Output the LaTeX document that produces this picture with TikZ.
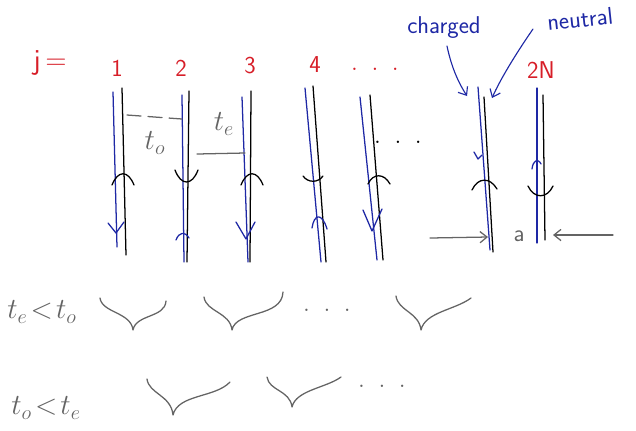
\documentclass[tikz,border=0pt]{standalone}
\usetikzlibrary{arrows.meta}
\definecolor{inkred}{RGB}{215,30,40}
\definecolor{inkblue}{RGB}{30,40,165}
\definecolor{inkgray}{RGB}{100,100,100}
\newcommand{\inkdots}{.\hspace{0.45em}.\hspace{0.45em}.}
\begin{document}
\begin{tikzpicture}[x=0.025cm,y=-0.025cm,line cap=round,line join=round,
  charged wire/.style={inkblue,line width=0.9pt},
  neutral wire/.style={black,line width=0.9pt},
  site label/.style={text=inkred,font=\sffamily\LARGE},
  ink label/.style={text=inkblue,font=\sffamily\LARGE},
  gray label/.style={text=inkgray,font=\huge},
  gray ink/.style={inkgray,line width=0.9pt},
  barb/.style={-{Straight Barb[length=5pt,width=8pt]}}]
\useasboundingbox (0,0) rectangle (636,430);
% site labels
\node[site label,font=\sffamily\huge] (jeq) at (50,63) {j\,=};
\node[site label] (j1) at (117,68) {1};
\node[site label] (j2) at (181,68) {2};
\node[site label] (j3) at (250,66) {3};
\node[site label] (j4) at (315,65) {4};
\node[site label,font=\huge] (jdots) at (375,69) {\inkdots};
\node[site label] (j2N) at (541,70) {2N};
% wires: charged (blue) and neutral (black)
\foreach \n/\ba/\bb/\ka/\kb in {1/{113,92}/{117,247}/{122,88}/{126,255},
    2/{182,95}/{184,262}/{189,91}/{187,262},
    3/{242,97}/{248,262}/{251,91}/{250,262},
    4/{305,88}/{321,262}/{313,86}/{326,262},
    5/{360,97}/{377,260}/{370,95}/{383,260},
    6/{478,87}/{490,250}/{484,97}/{493,252},
    7/{537,88}/{537,243}/{543,95}/{545,240}}{
  \coordinate (c\n top) at (\ba);
  \coordinate (c\n bot) at (\bb);
  \coordinate (n\n top) at (\ka);
  \coordinate (n\n bot) at (\kb);
  \draw[charged wire] (c\n top) -- (c\n bot);
  \draw[neutral wire] (n\n top) -- (n\n bot);
}
% crossings on the neutral wires
\draw[neutral wire] (112,185) .. controls (118,170) and (128,170) .. (134,185);
\draw[neutral wire] (175,170) .. controls (181,186) and (192,186) .. (198,170);
\draw[neutral wire] (241,185) .. controls (247,170) and (257,170) .. (263,185);
\draw[neutral wire] (303,176) .. controls (308,183) and (318,183) .. (323,176);
\draw[neutral wire] (368,184) .. controls (373,173) and (384,173) .. (390,184);
\draw[neutral wire] (472,190) .. controls (478,177) and (490,177) .. (497,189);
\draw[neutral wire] (528,186) .. controls (534,199) and (547,199) .. (553,186);
% orientation marks on the charged wires
\draw[charged wire] (108,223) -- (116,233) -- (124,222);
\draw[charged wire] (176,240) .. controls (179,232) and (185,231) .. (189,238);
\draw[charged wire] (236,222) -- (246,239) -- (255,222);
\draw[charged wire] (312,228) .. controls (314,214) and (322,212) .. (327,229);
\draw[charged wire] (363,210) -- (372,231) -- (382,209);
\draw[charged wire] (474,152) -- (478,159) -- (482,155);
\draw[charged wire] (532,169) .. controls (533,160) and (538,158) .. (541,164);
% hoppings
\draw[gray ink,dashed,dash pattern=on 10pt off 5pt] (127,115) -- (182,119);
\node[gray label] (to) at (155,143) {$t_o$};
\node[gray label] (te) at (224,124) {$t_e$};
\draw[gray ink] (197,154) -- (245,153);
\node[font=\huge] (middots) at (398,142) {\inkdots};
% labels charged / neutral
\node[ink label] (charged) at (444,28) {charged};
\node[ink label,rotate=6] (neutral) at (580,19) {neutral};
\coordinate (ctip) at (467,96);
\coordinate (ntip) at (492,98);
\draw[inkblue,line width=0.8pt,barb] (447,46) .. controls (452,70) and (460,85) .. (ctip);
\draw[inkblue,line width=0.8pt,barb] (533,29) .. controls (515,55) and (500,80) .. (ntip);
% spacing a
\node[gray label,font=\sffamily\LARGE] (a) at (519,236) {a};
\coordinate (aleft) at (430,238);
\coordinate (aright) at (613,235);
\draw[gray ink,barb] (aleft) -- (488,237);
\draw[gray ink,barb] (aright) -- (553,235);
% pairings, t_e < t_o
\node[gray label] (even) at (42,312) {$t_e\!<\!t_o$};
\draw[gray ink] (100,298) .. controls (102,313) and (131,312) .. (133,330)
  .. controls (136,314) and (165,318) .. (166,301);
\draw[gray ink] (204,297) .. controls (206,312) and (230,312) .. (232,330)
  .. controls (236,310) and (282,318) .. (283,292);
\node[gray label] (evendots) at (327,310) {\inkdots};
\draw[gray ink] (396,296) .. controls (398,311) and (419,312) .. (421,330)
  .. controls (425,312) and (455,310) .. (471,298);
% pairings, t_o < t_e
\node[gray label] (odd) at (46,408) {$t_o\!<\!t_e$};
\draw[gray ink] (147,379) .. controls (149,394) and (171,395) .. (173,415)
  .. controls (178,394) and (215,398) .. (230,382);
\draw[gray ink] (267,377) .. controls (269,391) and (290,390) .. (292,407)
  .. controls (296,390) and (326,388) .. (341,377);
\node[gray label] (odddots) at (382,386) {\inkdots};
\end{tikzpicture}
\end{document}
